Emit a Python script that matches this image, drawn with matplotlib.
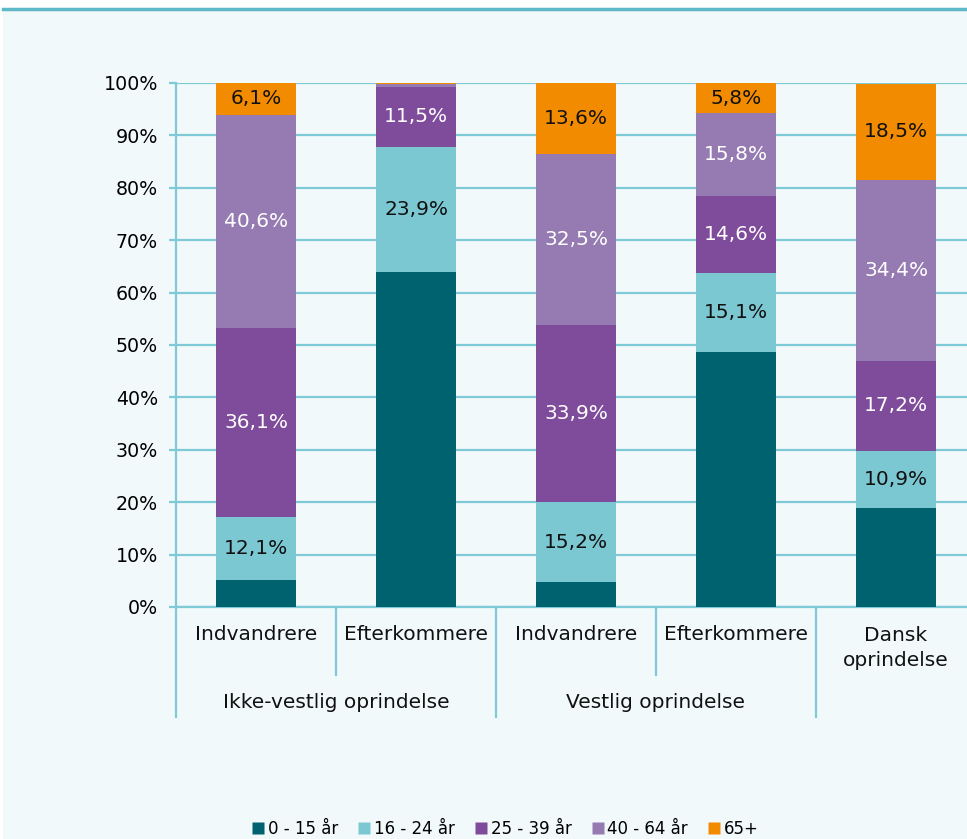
import matplotlib
matplotlib.use("Agg")
import matplotlib.pyplot as plt
from matplotlib.patches import Rectangle
from matplotlib.lines import Line2D
from matplotlib.ticker import MultipleLocator, FuncFormatter

# data (percent of each group)
sub_labels = ["Indvandrere", "Efterkommere", "Indvandrere", "Efterkommere", "Dansk\noprindelse"]
group_labels = ["Ikke-vestlig oprindelse", "Vestlig oprindelse"]
age_groups = ["0 - 15 år", "16 - 24 år", "25 - 39 år", "40 - 64 år", "65+"]

age_0_15 = [5.1, 63.9, 4.8, 48.7, 18.9]
age_16_24 = [12.1, 23.9, 15.2, 15.1, 10.9]
age_25_39 = [36.1, 11.5, 33.9, 14.6, 17.2]
age_40_64 = [40.6, 0.5, 32.5, 15.8, 34.4]
age_65 = [6.1, 0.2, 13.6, 5.8, 18.5]

series = [age_0_15, age_16_24, age_25_39, age_40_64, age_65]
colors = ["#00616f", "#7bc7d2", "#7f4b9b", "#957bb1", "#f28b00"]
text_colors = [None, "#111111", "white", "white", "#111111"]

teal = "#7ecad6"
bg = "#f2f9fb"

plt.rcParams["font.family"] = ["DejaVu Sans"]
plt.rcParams["font.size"] = 14

fig = plt.figure(figsize=(9.67, 8.39), dpi=100)
fig.patch.set_facecolor("white")
# panel background and top rule
fig.patches.append(Rectangle((3 / 967, 0), 1, 1 - 10 / 839, transform=fig.transFigure,
                             facecolor=bg, edgecolor="none", zorder=-10))
fig.lines.append(Line2D([3 / 967, 1], [1 - 9 / 839, 1 - 9 / 839], transform=fig.transFigure,
                        color="#5db9c6", linewidth=2.5, zorder=-9))

ax = fig.add_axes([176 / 967, 1 - 607 / 839, 800 / 967, 524 / 839])
ax.set_facecolor("none")

x = list(range(len(sub_labels)))
bottom = [0.0] * len(x)
for k, vals in enumerate(series):
    ax.bar(x, vals, width=0.5, bottom=bottom, color=colors[k], edgecolor="none",
           label=age_groups[k], zorder=3)
    if text_colors[k] is not None:
        for i, v in enumerate(vals):
            if v >= 5:
                ax.text(x[i], bottom[i] + v / 2, ("%.1f%%" % v).replace(".", ","),
                        ha="center", va="center", color=text_colors[k], fontsize=14.5, zorder=4)
    bottom = [b + v for b, v in zip(bottom, vals)]

ax.set_xlim(-0.5, 4.5)
ax.set_ylim(0, 100)
ax.yaxis.set_major_locator(MultipleLocator(10))
ax.yaxis.set_major_formatter(FuncFormatter(lambda v, p: "%d%%" % v))
ax.grid(axis="y", color=teal, linewidth=1.6, zorder=1)
ax.set_axisbelow(True)
for s in ["top", "right"]:
    ax.spines[s].set_visible(False)
for s in ["left", "bottom"]:
    ax.spines[s].set_color(teal)
    ax.spines[s].set_linewidth(1.6)
ax.tick_params(axis="y", color=teal, width=1.6, length=5, pad=8, labelsize=13.7)
ax.set_xticks([])

# category labels below the axis
to_px = ax.get_xaxis_transform()
for i, lab in enumerate(sub_labels):
    yy = -0.053 if "\n" not in lab else -0.078
    ax.text(x[i], yy, lab, transform=to_px, ha="center", va="center", fontsize=14.5,
            linespacing=1.4, color="#111111")
ax.text(0.5, -0.183, group_labels[0], transform=to_px, ha="center", va="center", fontsize=14.5, color="#111111")
ax.text(2.5, -0.183, group_labels[1], transform=to_px, ha="center", va="center", fontsize=14.5, color="#111111")

# separators
long_sep = -110 / 524
short_sep = -68 / 524
for xs, depth in [(-0.5, long_sep), (0.5, short_sep), (1.5, long_sep), (2.5, short_sep), (3.5, long_sep)]:
    ax.plot([xs, xs], [0, depth], transform=to_px, color=teal, linewidth=1.6, clip_on=False)

handles = [Line2D([], [], marker="s", linestyle="none", markersize=9, markerfacecolor=c,
                  markeredgecolor="none") for c in colors]
fig.legend(handles, age_groups, loc="center left", bbox_to_anchor=(252 / 967, 1 - 829 / 839),
           ncol=5, frameon=False, fontsize=12, handlelength=0.75, handletextpad=0.2,
           columnspacing=1.2, borderaxespad=0, borderpad=0)

fig.savefig("out.png", dpi=100, facecolor=fig.get_facecolor())
